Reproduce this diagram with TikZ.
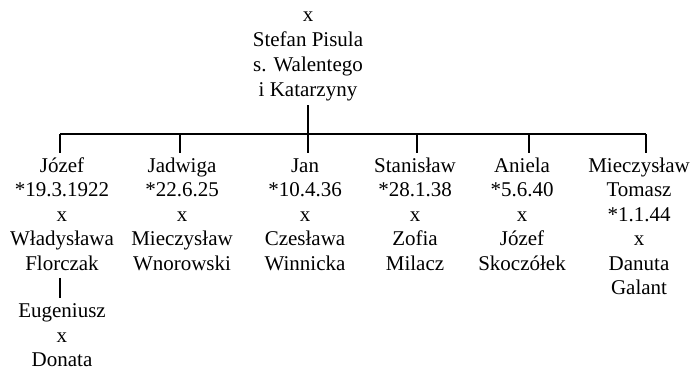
\documentclass[tikz,border=0pt]{standalone}
\usepackage{fontspec}
\setmainfont{Liberation Serif}
\usetikzlibrary{positioning}
\tikzset{
  person/.style={
    align=center,
    inner sep=0pt,
    anchor=north,
    node font=\fontsize{21}{24.5}\selectfont,
  },
  link/.style={
    draw,
    line width=1.6pt,
  },
}
\begin{document}
\begin{tikzpicture}[x=1pt,y=-1pt]
  \useasboundingbox (0,0) rectangle (696,369);

  \node (stefan) [person,node font=\fontsize{21}{25}\selectfont] at (308,3.5) {\strut x\\Stefan Pisula\\s. Walentego\\i Katarzyny};

  \node (jozef)      [person] at (62,155)  {\strut Józef\\*19.3.1922\\x\\Władysława\\Florczak};
  \node (jadwiga)    [person] at (182,155) {\strut Jadwiga\\*22.6.25\\x\\Mieczysław\\Wnorowski};
  \node (jan)        [person] at (305,155) {\strut Jan\\*10.4.36\\x\\Czesława\\Winnicka};
  \node (stanislaw)  [person] at (415,155) {\strut Stanisław\\*28.1.38\\x\\Zofia\\Milacz};
  \node (aniela)     [person] at (522,155) {\strut Aniela\\*5.6.40\\x\\Józef\\Skoczółek};
  \node (mieczyslaw) [person] at (639,155) {\strut Mieczysław\\Tomasz\\*1.1.44\\x\\Danuta\\Galant};

  \node (eugeniusz)  [person,below=29.6pt of jozef] {\strut Eugeniusz\\x\\Donata};

  \coordinate (bus) at (308,134);

  % parent down to the family line
  \path [link,shorten <=4.5pt] (stefan.south) -- (bus);
  \path [link] ([xshift=-2pt]jozef.north |- bus) -- ([xshift=7pt]mieczyslaw.north |- bus);
  \foreach \child/\dx in {jozef/-2,jadwiga/-2,jan/3,stanislaw/2,aniela/7,mieczyslaw/7}
    \path [link] ([xshift=\dx pt]\child.north |- bus) -- ([xshift=\dx pt,yshift=2pt]\child.north);
  \path [link,shorten <=7pt,shorten >=2pt] ([xshift=-2pt]jozef.south) -- ([xshift=-2pt]eugeniusz.north);
\end{tikzpicture}
\end{document}
